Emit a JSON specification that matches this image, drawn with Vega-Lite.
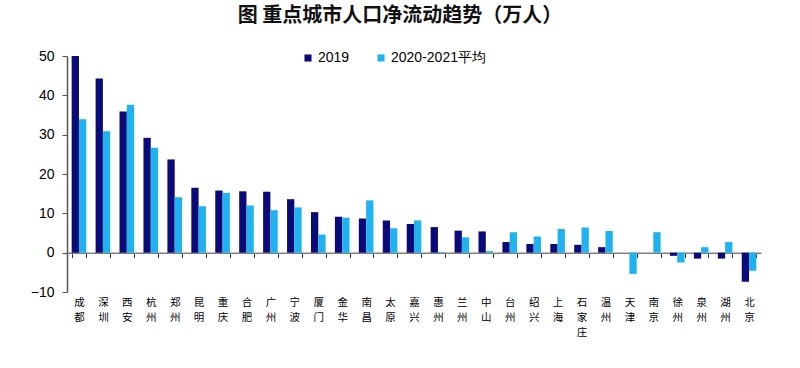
{
  "$schema": "https://vega.github.io/schema/vega-lite/v6.json",
  "autosize": {"type": "none"},
  "width": 694,
  "height": 236,
  "padding": {"left": 67, "top": 56, "right": 39, "bottom": 76},
  "background": "white",
  "title": {
    "text": "图   重点城市人口净流动趋势（万人）",
    "font": "Noto Sans CJK SC",
    "fontSize": 20,
    "fontWeight": "bold",
    "color": "#111111",
    "anchor": "middle",
    "dx": -14,
    "offset": 23
  },
  "data": {
    "values": [
      {"city": "成都", "series": "2019", "value": 50.0},
      {"city": "成都", "series": "2020-2021平均", "value": 33.9},
      {"city": "深圳", "series": "2019", "value": 44.3},
      {"city": "深圳", "series": "2020-2021平均", "value": 30.9},
      {"city": "西安", "series": "2019", "value": 35.9},
      {"city": "西安", "series": "2020-2021平均", "value": 37.6},
      {"city": "杭州", "series": "2019", "value": 29.2},
      {"city": "杭州", "series": "2020-2021平均", "value": 26.7},
      {"city": "郑州", "series": "2019", "value": 23.7},
      {"city": "郑州", "series": "2020-2021平均", "value": 14.1},
      {"city": "昆明", "series": "2019", "value": 16.5},
      {"city": "昆明", "series": "2020-2021平均", "value": 11.8},
      {"city": "重庆", "series": "2019", "value": 15.8},
      {"city": "重庆", "series": "2020-2021平均", "value": 15.2},
      {"city": "合肥", "series": "2019", "value": 15.6},
      {"city": "合肥", "series": "2020-2021平均", "value": 12.0},
      {"city": "广州", "series": "2019", "value": 15.5},
      {"city": "广州", "series": "2020-2021平均", "value": 10.8},
      {"city": "宁波", "series": "2019", "value": 13.6},
      {"city": "宁波", "series": "2020-2021平均", "value": 11.5},
      {"city": "厦门", "series": "2019", "value": 10.3},
      {"city": "厦门", "series": "2020-2021平均", "value": 4.6},
      {"city": "金华", "series": "2019", "value": 9.1},
      {"city": "金华", "series": "2020-2021平均", "value": 8.9},
      {"city": "南昌", "series": "2019", "value": 8.7},
      {"city": "南昌", "series": "2020-2021平均", "value": 13.3},
      {"city": "太原", "series": "2019", "value": 8.2},
      {"city": "太原", "series": "2020-2021平均", "value": 6.2},
      {"city": "嘉兴", "series": "2019", "value": 7.3},
      {"city": "嘉兴", "series": "2020-2021平均", "value": 8.2},
      {"city": "惠州", "series": "2019", "value": 6.5},
      {"city": "惠州", "series": "2020-2021平均", "value": 0.2},
      {"city": "兰州", "series": "2019", "value": 5.6},
      {"city": "兰州", "series": "2020-2021平均", "value": 3.9},
      {"city": "中山", "series": "2019", "value": 5.4},
      {"city": "中山", "series": "2020-2021平均", "value": 0.4},
      {"city": "台州", "series": "2019", "value": 2.7},
      {"city": "台州", "series": "2020-2021平均", "value": 5.2},
      {"city": "绍兴", "series": "2019", "value": 2.2},
      {"city": "绍兴", "series": "2020-2021平均", "value": 4.1},
      {"city": "上海", "series": "2019", "value": 2.2},
      {"city": "上海", "series": "2020-2021平均", "value": 6.0},
      {"city": "石家庄", "series": "2019", "value": 2.0},
      {"city": "石家庄", "series": "2020-2021平均", "value": 6.4},
      {"city": "温州", "series": "2019", "value": 1.4},
      {"city": "温州", "series": "2020-2021平均", "value": 5.5},
      {"city": "天津", "series": "2019", "value": 0.0},
      {"city": "天津", "series": "2020-2021平均", "value": -5.4},
      {"city": "南京", "series": "2019", "value": 0.0},
      {"city": "南京", "series": "2020-2021平均", "value": 5.2},
      {"city": "徐州", "series": "2019", "value": -0.8},
      {"city": "徐州", "series": "2020-2021平均", "value": -2.5},
      {"city": "泉州", "series": "2019", "value": -1.5},
      {"city": "泉州", "series": "2020-2021平均", "value": 1.4},
      {"city": "湖州", "series": "2019", "value": -1.5},
      {"city": "湖州", "series": "2020-2021平均", "value": 2.7},
      {"city": "北京", "series": "2019", "value": -7.4},
      {"city": "北京", "series": "2020-2021平均", "value": -4.6}
    ]
  },
  "mark": {"type": "bar"},
  "encoding": {
    "x": {
      "field": "city",
      "type": "nominal",
      "sort": null,
      "scale": {"paddingInner": 0.39, "paddingOuter": 0.195},
      "axis": {
        "title": null,
        "offset": -39.33,
        "tickBand": "extent",
        "labelAngle": 0,
        "labelExpr": "split(datum.label, '')",
        "labelFont": "Noto Sans CJK SC",
        "labelFontSize": 10.5,
        "labelLineHeight": 15,
        "labelColor": "#000000",
        "labelPadding": 40,
        "domainColor": "#808080",
        "domainWidth": 1.5,
        "tickColor": "#333333",
        "tickSize": 5,
        "tickWidth": 1,
        "labelOverlap": false
      }
    },
    "xOffset": {"field": "series", "type": "nominal", "scale": {"paddingInner": 0, "paddingOuter": 0}},
    "y": {
      "field": "value",
      "type": "quantitative",
      "scale": {"domain": [-10, 50], "nice": false, "zero": false},
      "axis": {
        "title": null,
        "values": [-10, 0, 10, 20, 30, 40, 50],
        "grid": false,
        "labelFont": "Liberation Sans",
        "labelFontSize": 14,
        "labelColor": "#000000",
        "labelPadding": 8,
        "domainColor": "#555555",
        "domainWidth": 1.5,
        "tickColor": "#555555",
        "tickSize": 5
      }
    },
    "color": {
      "field": "series",
      "type": "nominal",
      "scale": {"domain": ["2019", "2020-2021平均"], "range": ["#0a0a78", "#1fb2ee"]},
      "legend": {
        "title": null,
        "orient": "none",
        "legendX": 234,
        "legendY": -5,
        "direction": "horizontal",
        "symbolType": "square",
        "symbolSize": 50,
        "symbolStrokeWidth": 0,
        "labelFont": "Liberation Sans",
        "labelFontSize": 14,
        "labelColor": "#000000",
        "columnPadding": 24,
        "labelOffset": 3
      }
    }
  },
  "config": {
    "view": {"stroke": null},
    "font": "Noto Sans CJK SC"
  }
}
